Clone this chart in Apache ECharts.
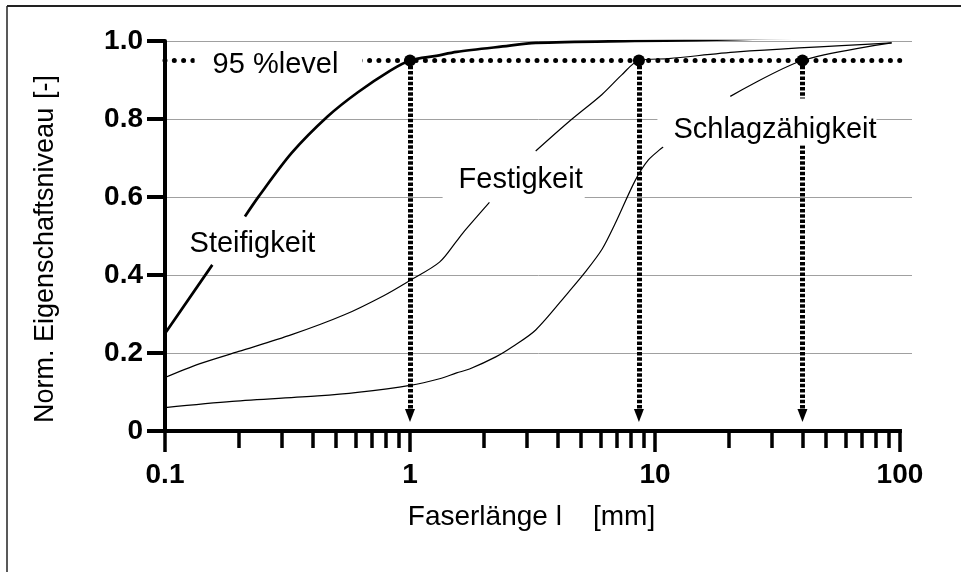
<!DOCTYPE html>
<html>
<head>
<meta charset="utf-8">
<script src="https://cdn.jsdelivr.net/npm/echarts@6/dist/echarts.min.js"></script>
<style>
  html, body { margin: 0; padding: 0; background: #fff; }
  #chart { width: 961px; height: 572px; }
</style>
</head>
<body>
<div id="chart"></div>
<script>
// Fibre length l [mm] against normalised property level for three properties
const steifX = [0.1, 0.156, 0.185, 0.212, 0.241, 0.329, 0.462, 0.611, 0.831, 1, 1.28, 1.55, 2.39, 3.26, 8.28, 14.7, 21.7, 38.7, 100];
const steifY = [0.25, 0.426, null, 0.55, 0.601, 0.713, 0.807, 0.868, 0.924, 0.95, 0.962, 0.972, 0.986, 0.995, 1.0, 1.002, 1.005, 1.009, 1.015];

const festX = [0.1, 0.138, 0.2, 0.329, 0.54, 0.781, 1, 1.32, 1.55, 1.64, 2.11, 2.6, 3.26, 4.45, 6.08, 7.32, 8.6, 11.4, 21.7, 92.5];
const festY = [0.137, 0.172, 0.204, 0.247, 0.298, 0.347, 0.386, 0.433, 0.487, 0.507, 0.586, null, 0.718, 0.793, 0.863, 0.913, 0.95, 0.955, 0.972, 0.995];

const schlagX = [0.1, 0.188, 0.42, 0.61, 1, 1.32, 1.55, 1.75, 2.24, 2.62, 3.26, 4.45, 5.2, 6.08, 6.88, 8.3, 9.4, 10.8, 15, 20.3, 40, 92.5];
const schlagY = [0.06, 0.076, 0.09, 0.099, 0.117, 0.134, 0.149, 0.159, 0.19, 0.216, 0.259, 0.357, 0.408, 0.466, 0.532, 0.642, 0.695, 0.728, null, 0.858, 0.95, 0.995];

// 95 % level and the fibre lengths at which each property reaches it
const level = 0.95;
const levelLineX = [0.1, 104];
const thresholdX = [1, 8.6, 40];
const arrowEndY = 0.04;

// Axis ticks
const majorTicks = [0.1, 1, 10, 100];
const minorTicks = [0.2, 0.3, 0.4, 0.5, 0.6, 0.7, 0.8, 0.9,
                    2, 3, 4, 5, 6, 7, 8, 9,
                    20, 30, 40, 50, 60, 70, 80, 90];
const xMax = 112;

// Curve annotations (anchored at text centre, data coordinates)
const annotText = ['95 %level', 'Steifigkeit', 'Festigkeit', 'Schlagzähigkeit'];
const annotX = [0.2825, 0.2275, 2.83, 30.9];
const annotY = [0.938, 0.479, 0.644, 0.772];

const FONT = "'Liberation Sans', Arial, Helvetica, sans-serif";
const ANNOT_SIZE = 29;

// white boxes behind the annotations: padding [top, right, bottom, left]
const annotPad = [[4, 24, 4, 18], [0, 0, 0, 0], [2, 2, 6, 16], [17, 0, 1, 16]];
const annotBg = ['#fff', 'transparent', '#fff', '#fff'];

const pairs = (xs, ys) => xs.map((x, i) => [x, ys[i] == null ? '-' : ys[i]]);

const chart = echarts.init(document.getElementById('chart'), null, { renderer: 'canvas' });

const curveBase = {
  type: 'line', xAxisIndex: 0, yAxisIndex: 0,
  smooth: 0.3, showSymbol: false, symbol: 'none',
  silent: true, z: 3, connectNulls: false
};

const option = {
  animation: false,
  backgroundColor: '#fff',
  grid: { left: 165, right: 961 - 912, top: 41, bottom: 141, containLabel: false, outerBoundsMode: 'none' },
  xAxis: [
    {
      type: 'log', logBase: 10, min: majorTicks[0], max: xMax, position: 'bottom',
      axisLine: { show: false },
      splitLine: { show: false },
      minorTick: { show: false },
      axisLabel: { show: false },
      axisTick: { show: true, inside: false, length: 17, lineStyle: { color: '#000', width: 3.5 }, customValues: minorTicks }
    },
    {
      type: 'log', logBase: 10, min: majorTicks[0], max: xMax, position: 'bottom',
      axisLine: { show: false },
      splitLine: { show: false },
      minorTick: { show: false },
      axisTick: { show: true, inside: false, length: 21, lineStyle: { color: '#000', width: 3.5 }, customValues: majorTicks },
      axisLabel: {
        show: true, customValues: majorTicks, margin: 30,
        fontSize: 28, fontWeight: 'bold', color: '#000', fontFamily: FONT,
        formatter: v => String(+(+v).toPrecision(6))
      }
    }
  ],
  yAxis: {
    type: 'value', min: 0, max: 1, interval: 0.2,
    axisLine: { show: true, lineStyle: { color: '#000', width: 4 } },
    axisTick: { show: true, inside: false, length: 18, lineStyle: { color: '#000', width: 4 } },
    axisLabel: {
      margin: 22, fontSize: 28, fontWeight: 'bold', color: '#000', fontFamily: FONT,
      padding: [10, 0, 0, 0],
      formatter: v => (v === 0 ? '0' : v.toFixed(1))
    },
    splitLine: { show: true, showMinLine: false, lineStyle: { color: '#a0a0a0', width: 1 } }
  },
  series: [
    {
      name: '95 %level',
      type: 'line', xAxisIndex: 0, yAxisIndex: 0, silent: true, z: 1,
      symbol: 'none', showSymbol: false, clip: false,
      data: pairs(levelLineX, levelLineX.map(() => level)),
      lineStyle: { color: '#000', width: 5, type: [0, 9.3], cap: 'round' },
      markLine: {
        silent: true, z: 1, animation: false,
        label: { show: false },
        emphasis: { disabled: true },
        itemStyle: { color: '#000' },
        lineStyle: { color: '#000', width: 5, type: [3.5, 1.8] },
        data: thresholdX.map(x => [
          { coord: [x, level], symbol: 'circle', symbolSize: 12 },
          { coord: [x, arrowEndY], symbol: 'triangle', symbolSize: [10, 13] }
        ]).concat([[
          { coord: [majorTicks[0], 0], symbol: 'none' },
          { coord: [majorTicks[majorTicks.length - 1], 0], symbol: 'none',
            lineStyle: { color: '#000', width: 4, type: 'solid', cap: 'square' } }
        ]])
      }
    },
    {
      name: 'annotations',
      type: 'scatter', xAxisIndex: 0, yAxisIndex: 0, silent: true, z: 2,
      symbol: 'circle', symbolSize: 1,
      itemStyle: { color: 'rgba(0,0,0,0)', opacity: 1 },
      label: {
        show: true, position: 'inside', align: 'center', verticalAlign: 'top',
        fontSize: ANNOT_SIZE, lineHeight: ANNOT_SIZE, color: '#000', opacity: 1, fontFamily: FONT
      },
      data: annotText.map((t, i) => {
        const p = annotPad[i];
        return {
          value: [annotX[i], annotY[i]],
          label: {
            formatter: t,
            padding: p,
            backgroundColor: annotBg[i],
            // keep the text centred on its anchor whatever the box padding
            offset: [(p[1] - p[3]) / 2, -(p[0] + ANNOT_SIZE / 2)]
          }
        };
      })
    },
    Object.assign({}, curveBase, {
      name: 'Steifigkeit', data: pairs(steifX, steifY),
      lineStyle: { color: '#000', width: 2.7 }
    }),
    Object.assign({}, curveBase, {
      name: 'Festigkeit', data: pairs(festX, festY),
      lineStyle: { color: '#000', width: 1.2 }
    }),
    Object.assign({}, curveBase, {
      name: 'Schlagzähigkeit', data: pairs(schlagX, schlagY),
      lineStyle: { color: '#000', width: 1.2 }
    })
  ],
  graphic: [
    { type: 'line', silent: true, shape: { x1: 7, y1: 6, x2: 7, y2: 572 }, style: { stroke: '#222', lineWidth: 1.5 } },
    { type: 'line', silent: true, shape: { x1: 7, y1: 6, x2: 961, y2: 6 }, style: { stroke: '#222', lineWidth: 2 } },
    {
      type: 'text', silent: true, x: 46, y: 423, rotation: Math.PI / 2,
      style: { text: 'Norm. Eigenschaftsniveau', fontSize: 27, fontFamily: FONT, fill: '#000', align: 'left', verticalAlign: 'middle' }
    },
    {
      type: 'text', silent: true, x: 46, y: 99, rotation: Math.PI / 2,
      style: { text: '[-]', fontSize: 27, fontFamily: FONT, fill: '#000', align: 'left', verticalAlign: 'middle' }
    },
    {
      type: 'text', silent: true, x: 531.5, y: 517,
      style: { text: 'Faserlänge l    [mm]', fontSize: 28, fontFamily: FONT, fill: '#000', align: 'center', verticalAlign: 'middle' }
    }
  ]
};

chart.setOption(option);
</script>
</body>
</html>
